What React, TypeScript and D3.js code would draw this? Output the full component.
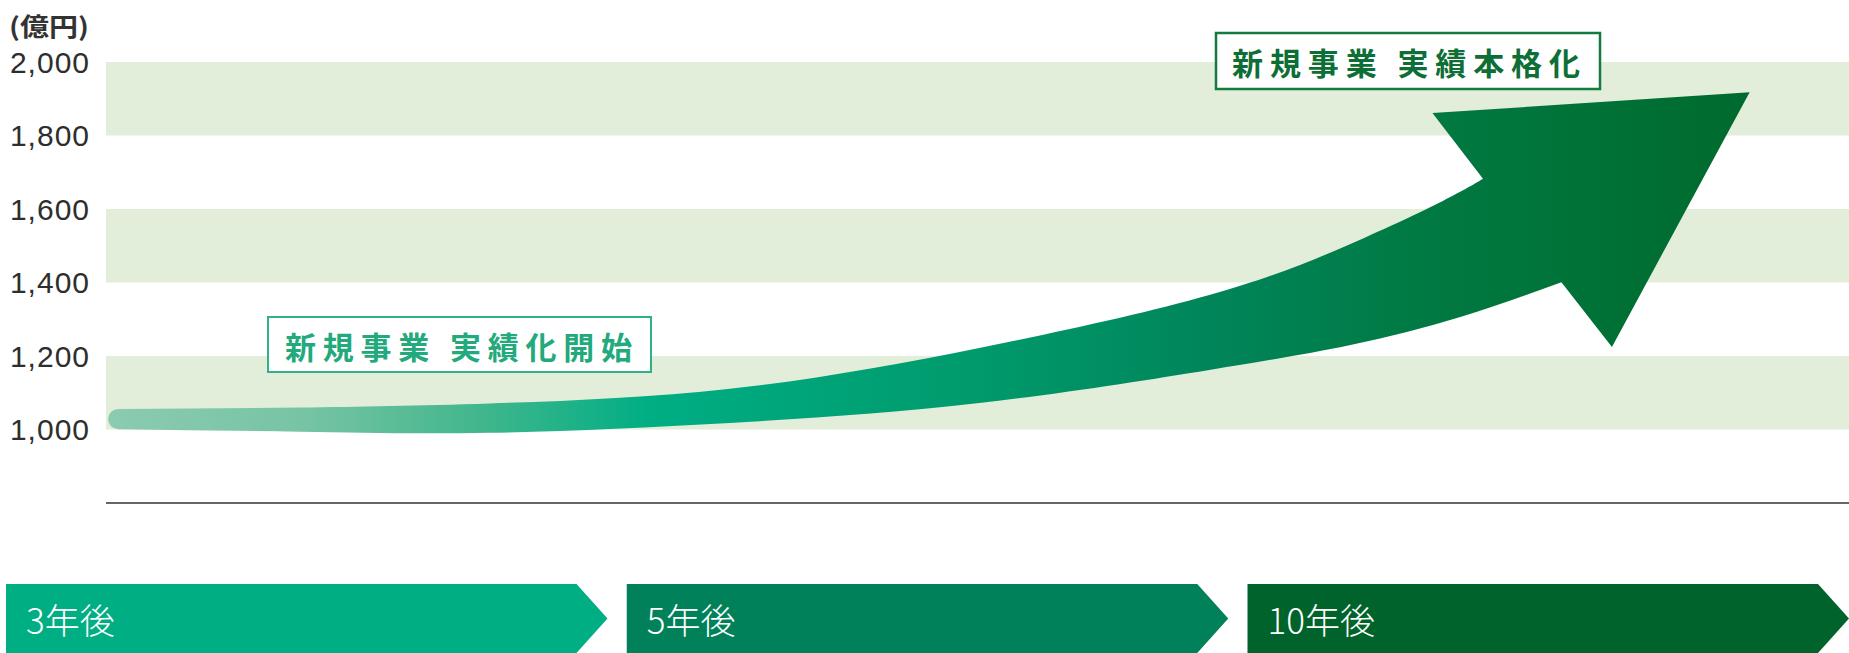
import React from 'react';
import * as d3 from 'd3';

const W = 1849;
const H = 653;

// y axis (億円)
const yTicks = [1000, 1200, 1400, 1600, 1800, 2000];
const shadedBands: [number, number][] = [
  [1800, 2000],
  [1400, 1600],
  [1000, 1200],
];
const baseValue = 800;
const unitLabel = '(億円)';

// timeline periods
const periods = ['3年後', '5年後', '10年後'];
const periodColors = ['#00ae84', '#00815a', '#00632b'];

// milestone labels
const milestoneLabels = ['新規事業 実績化開始', '新規事業 実績本格化'];

// arrow outline: [progress %, 億円]
const arrowTop: [number, number][] = [
  [0.7, 1056],
  [11.1, 1060],
  [22.0, 1071],
  [35.8, 1111],
  [50.1, 1222],
  [63.3, 1366],
  [71.4, 1505],
  [76.7, 1622],
  [79.0, 1682],
];
const arrowBottom: [number, number][] = [
  [0.7, 1001],
  [11.1, 994],
  [22.0, 991],
  [35.8, 1018],
  [50.1, 1072],
  [63.3, 1162],
  [71.4, 1230],
  [77.7, 1306],
  [83.5, 1401],
];
// left barb, tip, bottom barb
const arrowHead: [number, number][] = [
  [76.1, 1861],
  [94.3, 1918],
  [86.4, 1224.5],
];

const gradientStops: [number, string][] = [
  [0, '#8ccbb0'],
  [0.12, '#77c4a5'],
  [0.23, '#40b68c'],
  [0.33, '#00ae84'],
  [0.53, '#009a6c'],
  [0.67, '#00855a'],
  [0.82, '#007840'],
  [1, '#006a2d'],
];

export default function App() {
  const x = d3.scaleLinear().domain([0, 100]).range([106, 1849]);
  const y = d3.scaleLinear().domain([baseValue, 2000]).range([503, 62]);
  const band = d3.scaleBand<string>().domain(periods).range([6, 1849]).paddingInner(0.031);

  const line = d3
    .line<[number, number]>()
    .x((d) => x(d[0]))
    .y((d) => y(d[1]))
    .curve(d3.curveNatural);

  const topPath = line(arrowTop) as string;
  const bottomRev = (line([...arrowBottom].reverse()) as string).replace(/^M/, 'L');
  const head = arrowHead.map((p) => `L${x(p[0])},${y(p[1])}`).join('');
  const tailTopY = y(arrowTop[0][1]);
  const tailBotY = y(arrowBottom[0][1]);
  const r = (tailBotY - tailTopY) / 2;
  const arrowD = `${topPath}${head}${bottomRev}A${r},${r} 0 0 1 ${x(arrowTop[0][0])},${tailTopY}Z`;

  const bannerTop = 584;
  const bannerBottom = H;
  const tipDepth = 31;
  const bw = band.bandwidth();

  const cjk = '"Noto Sans CJK JP", "Noto Sans", sans-serif';
  const latin = '"Liberation Sans", Arial, sans-serif';

  return (
    <svg
      width={W}
      height={H}
      viewBox={`0 0 ${W} ${H}`}
      style={{ position: 'absolute', left: 0, top: 0, background: '#ffffff' }}
    >
      <defs>
        <linearGradient
          id="arrowGrad"
          gradientUnits="userSpaceOnUse"
          x1={x(0)}
          x2={x(94.3)}
          y1={0}
          y2={0}
        >
          {gradientStops.map(([o, c], i) => (
            <stop key={i} offset={o} stopColor={c} />
          ))}
        </linearGradient>
      </defs>

      {/* shaded bands */}
      {shadedBands.map(([lo, hi], i) => (
        <rect
          key={i}
          x={x(0)}
          y={y(hi)}
          width={x(100) - x(0)}
          height={y(lo) - y(hi)}
          fill="#e2eed9"
        />
      ))}

      {/* baseline */}
      <line
        x1={x(0)}
        x2={x(100)}
        y1={y(baseValue)}
        y2={y(baseValue)}
        stroke="#333"
        strokeWidth={1.5}
      />

      {/* y tick labels */}
      {yTicks.map((t) => (
        <text
          key={t}
          x={90}
          y={y(t)}
          dy="0.36em"
          textAnchor="end"
          fontFamily={latin}
          fontSize={30}
          letterSpacing={1}
          fill="#2e2e2e"
        >
          {d3.format(',')(t)}
        </text>
      ))}
      <text
        x={9}
        y={25}
        dominantBaseline="central"
        fontFamily={cjk}
        fontSize={25}
        fontWeight={700}
        fill="#333333"
        textLength={80}
        lengthAdjust="spacingAndGlyphs"
      >
        {unitLabel}
      </text>

      {/* arrow */}
      <path d={arrowD} fill="url(#arrowGrad)" />

      {/* milestone label 1 */}
      <rect x={268} y={317} width={383} height={55} fill="#ffffff" stroke="#2fb287" strokeWidth={2} />
      <text
        x={285}
        y={345}
        dominantBaseline="central"
        fontFamily={cjk}
        fontSize={31}
        fontWeight={700}
        fill="#22a97c"
        textLength={347}
        lengthAdjust="spacing"
      >
        {milestoneLabels[0]}
      </text>

      {/* milestone label 2 */}
      <rect x={1216} y={33} width={384} height={56} fill="#ffffff" stroke="#137a40" strokeWidth={2.5} />
      <text
        x={1232}
        y={61}
        dominantBaseline="central"
        fontFamily={cjk}
        fontSize={31}
        fontWeight={700}
        fill="#0d6e36"
        textLength={348}
        lengthAdjust="spacing"
      >
        {milestoneLabels[1]}
      </text>

      {/* timeline banners */}
      {periods.map((p, i) => {
        const x0 = band(p) as number;
        const x1 = x0 + bw;
        const mid = (bannerTop + bannerBottom) / 2;
        const d = `M${x0},${bannerTop}H${x1 - tipDepth}L${x1},${mid}L${x1 - tipDepth},${bannerBottom}H${x0}Z`;
        return (
          <g key={p}>
            <path d={d} fill={periodColors[i]} />
            <text
              x={x0 + 20}
              y={mid}
              dominantBaseline="central"
              fontFamily={cjk}
              fontSize={35}
              fontWeight={300}
              fill="#ffffff"
            >
              {p}
            </text>
          </g>
        );
      })}
    </svg>
  );
}
